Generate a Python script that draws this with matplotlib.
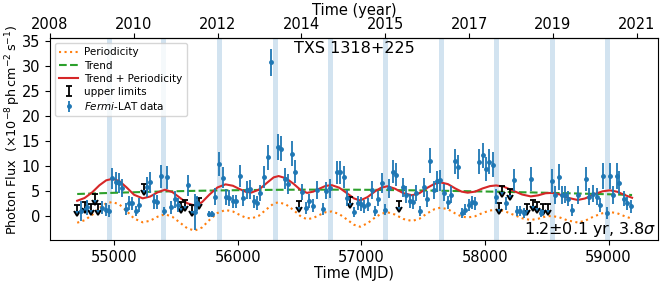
import numpy as np
import matplotlib
matplotlib.use("Agg")
import matplotlib.pyplot as plt

# Fermi-LAT light curve (monthly bins)
mjd = [54733, 54782, 54903, 54930, 54957, 54984, 55011, 55038, 55065, 55092,
       55119, 55146, 55172, 55199, 55265, 55290, 55318, 55345, 55375, 55402,
       55429, 55458, 55488, 55515, 55596, 55650, 55673, 55765, 55792, 55819,
       55849, 55876, 55905, 55932, 55960, 55987, 56016, 56043, 56075, 56102,
       56129, 56156, 56183, 56210, 56240, 56269, 56325, 56353, 56380, 56407,
       56439, 56466, 56520, 56550, 56578, 56607, 56638, 56690, 56717, 56749,
       56800, 56827, 56855, 56884, 56942, 56969, 56996, 57023, 57050, 57082,
       57109, 57136, 57166, 57193, 57225, 57252, 57279, 57333, 57360, 57390,
       57417, 57444, 57476, 57503, 57530, 57557, 57584, 57611, 57638, 57670,
       57697, 57724, 57754, 57780, 57813, 57840, 57867, 57894, 57921, 57953,
       57980, 58007, 58034, 58061, 58090, 58171, 58231, 58258, 58285, 58312,
       58371, 58452, 58541, 58568, 58595, 58622, 58649, 58675, 58702, 58756,
       58818, 58845, 58872, 58905, 58931, 58953, 58985, 59012, 59039, 59066,
       59088, 59126, 59152, 59182]
flux = [0.9, 1.7, 1.6, 1.2, 1.0, 7.6, 6.9, 6.6, 5.7, 1.4,
        2.6, 2.5, 0.9, 2.2, 5.9, 6.8, 2.9, 2.8, 8.0, 1.0,
        7.8, 1.7, 3.3, 2.2, 6.2, 0.8, 2.5, 0.3, 0.3, 3.9,
        10.5, 7.7, 3.8, 3.6, 2.9, 2.9, 8.0, 3.6, 5.2, 5.4,
        2.9, 2.6, 4.6, 7.9, 11.8, 30.8, 13.9, 13.5, 7.5, 6.4,
        12.5, 8.9, 4.8, 1.6, 3.0, 2.0, 5.2, 1.3, 5.1, 5.6,
        8.8, 8.8, 7.8, 3.6, 0.8, 2.6, 2.4, 1.9, 2.3, 5.2,
        0.9, 3.5, 6.6, 1.2, 5.6, 8.9, 8.3, 5.8, 4.3, 3.0,
        2.8, 4.6, 1.0, 5.8, 3.4, 11.1, 5.2, 7.0, 7.2, 4.7,
        2.7, 4.3, 11.0, 9.9, 0.6, 1.2, 2.2, 2.7, 2.5, 10.9,
        12.2, 9.4, 10.9, 10.3, 3.9, 2.5, 7.2, 1.0, 1.0, 0.6,
        7.5, 0.6, 7.0, 4.2, 7.9, 4.2, 4.3, 3.5, 1.2, 4.2,
        7.5, 3.9, 4.5, 3.9, 2.2, 8.0, 0.5, 8.0, 4.2, 8.0,
        6.7, 3.5, 2.5, 1.9]
flux_err = [2.0, 1.5, 1.3, 1.3, 1.2, 2.1, 2.0, 2.0, 1.8, 1.2,
            1.4, 1.4, 1.0, 1.5, 2.0, 2.1, 1.5, 1.5, 2.3, 0.8,
            2.3, 1.3, 1.7, 1.4, 2.1, 3.7, 1.5, 0.6, 0.6, 1.7,
            2.4, 2.1, 1.6, 1.6, 1.4, 1.4, 2.2, 1.6, 1.8, 1.9,
            1.4, 1.4, 1.7, 2.2, 2.5, 2.7, 2.6, 2.5, 2.1, 2.0,
            2.5, 2.3, 1.7, 1.2, 1.4, 1.3, 1.8, 1.2, 1.8, 1.9,
            2.3, 2.3, 2.2, 1.6, 1.0, 1.4, 1.4, 1.3, 1.3, 1.8,
            1.0, 1.6, 2.0, 1.1, 1.9, 2.3, 2.3, 1.9, 1.7, 1.4,
            1.4, 1.7, 1.0, 1.9, 1.6, 2.5, 1.8, 2.1, 2.1, 1.7,
            1.4, 1.7, 2.5, 2.4, 1.0, 1.1, 1.3, 1.4, 1.4, 2.5,
            2.5, 2.4, 2.5, 2.5, 1.6, 1.4, 2.2, 1.0, 1.0, 1.0,
            2.4, 0.8, 2.4, 1.8, 2.6, 1.8, 1.8, 1.6, 1.2, 1.8,
            2.4, 1.7, 1.8, 1.7, 1.4, 2.6, 1.2, 2.6, 1.8, 2.6,
            2.3, 1.6, 1.4, 1.3]

# upper limits
ul_mjd = [54701, 54760, 54809, 54844, 54871, 55237, 55544, 55571, 55625, 55682,
          56493, 56910, 57303, 58114, 58141, 58203, 58338, 58392, 58424, 58473,
          58508]
ul_flux = [2.2, 2.8, 2.3, 4.4, 2.3, 6.4, 2.7, 3.1, 2.2, 3.6,
           3.0, 3.8, 3.0, 2.5, 6.1, 5.4, 2.3, 3.2, 2.8, 2.3,
           2.4]

# fitted model (trend and periodic component)
model_mjd = [54700, 54760, 54820, 54880, 54935, 54984, 55040, 55100, 55160, 55230,
             55290, 55350, 55410, 55470, 55530, 55590, 55650, 55710, 55770, 55835,
             55900, 55960, 56020, 56065, 56110, 56170, 56230, 56290, 56330, 56390,
             56450, 56510, 56560, 56610, 56660, 56710, 56760, 56820, 56880, 56940,
             56990, 57050, 57110, 57160, 57210, 57270, 57340, 57410, 57470, 57530,
             57590, 57640, 57700, 57760, 57810, 57860, 57920, 57980, 58040, 58090,
             58150, 58220, 58300, 58370, 58430, 58490, 58540, 58600, 58670, 58750,
             58810, 58880, 58950, 59010, 59070, 59130, 59190]
trend = [4.40, 4.45, 4.50, 4.55, 4.59, 4.63, 4.67, 4.71, 4.75, 4.80,
         4.84, 4.87, 4.91, 4.94, 4.97, 5.00, 5.03, 5.06, 5.08, 5.11,
         5.13, 5.15, 5.17, 5.18, 5.19, 5.21, 5.22, 5.23, 5.24, 5.25,
         5.26, 5.26, 5.27, 5.27, 5.27, 5.27, 5.27, 5.27, 5.26, 5.26,
         5.25, 5.24, 5.23, 5.21, 5.20, 5.18, 5.16, 5.14, 5.12, 5.10,
         5.07, 5.05, 5.03, 5.00, 4.98, 4.96, 4.93, 4.91, 4.88, 4.86,
         4.83, 4.79, 4.75, 4.72, 4.68, 4.65, 4.62, 4.59, 4.55, 4.50,
         4.46, 4.42, 4.38, 4.34, 4.30, 4.25, 4.20]
periodic = [-1.35, -0.85, 0.20, 1.60, 2.55, 2.80, 2.35, 1.00, -0.50, -1.27,
            -0.95, -0.15, 0.35, -0.15, -1.30, -2.45, -2.93, -2.30, -0.80, 0.60,
            1.20, 0.90, 0.15, -0.35, -0.50, 0.05, 1.30, 2.50, 2.75, 2.30,
            1.20, -0.10, -0.65, -0.40, 0.20, 0.75, 0.90, 0.40, -0.65, -1.75,
            -2.15, -1.45, -0.30, 0.45, 0.75, 0.30, -0.60, -1.00, -0.55, 0.50,
            1.35, 1.67, 1.35, 0.50, -0.10, -0.30, -0.05, 0.60, 1.10, 1.25,
            1.05, 0.35, -0.45, -0.80, -0.55, -0.10, 0.00, -0.25, -0.90, -1.30,
            -0.95, -0.10, 0.55, 0.80, 0.55, -0.05, -0.55]

# times of the periodic maxima (shaded)
peak_mjd = [54958, 55401, 55853, 56302, 56750, 57197, 57647, 58096, 58545, 58994]

top_labels = ["2008", "2010", "2012", "2014", "2015", "2017", "2019", "2021"]

fig = plt.figure(figsize=(6.64, 2.82), dpi=100)
ax = fig.add_axes([0.0753, 0.149, 0.9157, 0.716])

for p in peak_mjd:
    ax.axvspan(p - 20, p + 20, color="C0", alpha=0.2, lw=0)

combined = np.array(trend) + np.array(periodic)
ax.plot(model_mjd, periodic, ":", color="C1", lw=1.5, label="Periodicity")
ax.plot(model_mjd, trend, "--", color="C2", lw=1.5, label="Trend")
ax.plot(model_mjd, combined, "-", color="C3", lw=1.5, label="Trend + Periodicity")

ax.errorbar(ul_mjd, ul_flux, yerr=1.2, uplims=True, fmt="none", ecolor="k",
            elinewidth=1.3, capsize=2.5, capthick=1.3, label="upper limits")
ax.errorbar(mjd, flux, yerr=flux_err, fmt="o", color="C0", ms=2.5,
            elinewidth=1.3, label=r"$\it{Fermi}$-LAT data")

ax.set_xlim(54480, 59400)
ax.set_ylim(-4.8, 35.6)
ax.set_yticks(range(0, 36, 5))
ax.set_xticks([55000, 56000, 57000, 58000, 59000])
ax.tick_params(labelsize=10.5)
ax.set_xlabel("Time (MJD)", fontsize=10.5, labelpad=1)
ax.set_ylabel(r"Photon Flux  $(\times10^{-8}\,\mathrm{ph\,cm^{-2}\,s^{-1}})$",
              fontsize=9.2)
ax.yaxis.set_label_coords(-0.044, 0.545)

top = ax.secondary_xaxis("top", functions=(lambda m: 2008 + (m - 54480) / 365.25,
                                           lambda y: 54480 + (y - 2008) * 365.25))
top.set_xticks(np.linspace(2008, 2021, len(top_labels)))
top.set_xticklabels(top_labels)
top.tick_params(labelsize=10.5, pad=1)
top.set_xlabel("Time (year)", fontsize=10.5, labelpad=1)

ax.text(0.5, 0.985, "TXS 1318+225", transform=ax.transAxes, ha="center",
        va="top", fontsize=11.5)
ax.text(0.997, 0.005, r"1.2$\pm$0.1 yr, 3.8$\sigma$", transform=ax.transAxes,
        ha="right", va="bottom", fontsize=11.5)

ax.legend(loc="upper left", fontsize=7.5, borderpad=0.4, labelspacing=0.3,
          handlelength=1.8, handletextpad=0.6, bbox_to_anchor=(0.0, 1.0))

fig.savefig("out.png", dpi=100)
